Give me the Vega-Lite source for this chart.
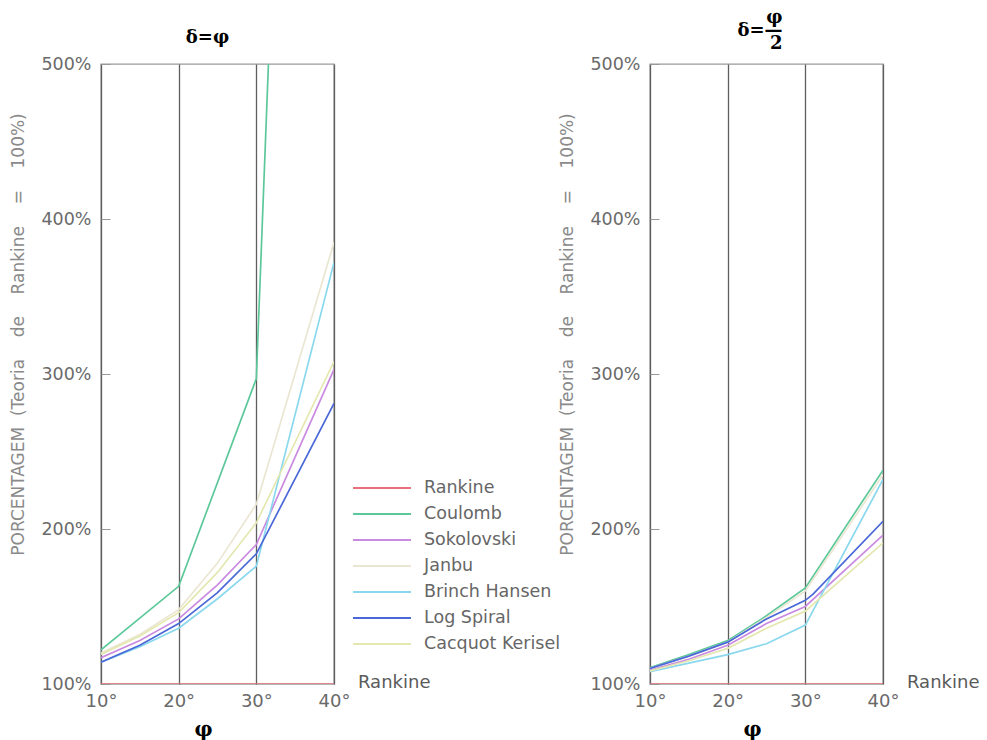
{
  "$schema": "https://vega.github.io/schema/vega-lite/v6.json",
  "padding": {"left": 9, "top": 8, "right": 5, "bottom": 5},
  "background": "white",
  "spacing": 316,
  "bounds": "flush",
  "config": {
    "font": "DejaVu Sans",
    "view": {"stroke": "#9a9a9a", "strokeWidth": 1.4},
    "axisX": {
      "labelExpr": "datum.value + '°'",
      "grid": true,
      "gridColor": "#5e5e5e",
      "gridWidth": 1.3,
      "domain": false,
      "ticks": false,
      "labelPadding": 8,
      "labelFontSize": 18,
      "labelColor": "#6a6a6a",
      "labelFlush": false,
      "titleFont": "DejaVu Serif",
      "titleFontWeight": "bold",
      "titleFontSize": 20,
      "titleColor": "black",
      "titlePadding": 9,
      "titleX": 102
    },
    "axisY": {
      "labelExpr": "datum.value + '%'",
      "grid": false,
      "domain": false,
      "ticks": true,
      "tickSize": -9,
      "tickColor": "#999999",
      "labelPadding": 19,
      "labelFontSize": 17.5,
      "labelColor": "#6a6a6a",
      "labelFlush": false,
      "titleFont": "DejaVu Sans",
      "titleFontWeight": "normal",
      "titleFontSize": 17,
      "titleColor": "#8a8a8a",
      "titlePadding": 13,
      "titleY": 270
    },
    "title": {"font": "DejaVu Serif", "fontWeight": "bold", "fontSize": 18, "color": "black"}
  },
  "resolve": {"scale": {"color": "independent"}, "legend": {"color": "independent"}},
  "datasets": {
    "d": [
      {"p": "A", "m": "Rankine", "x": 10, "y": 100},
      {"p": "A", "m": "Rankine", "x": 40, "y": 100},
      {"p": "A", "m": "Coulomb", "x": 10, "y": 122},
      {"p": "A", "m": "Coulomb", "x": 20, "y": 163},
      {"p": "A", "m": "Coulomb", "x": 30, "y": 297},
      {"p": "A", "m": "Coulomb", "x": 40, "y": 1600},
      {"p": "A", "m": "Sokolovski", "x": 10, "y": 117},
      {"p": "A", "m": "Sokolovski", "x": 15, "y": 128},
      {"p": "A", "m": "Sokolovski", "x": 20, "y": 142},
      {"p": "A", "m": "Sokolovski", "x": 25, "y": 164},
      {"p": "A", "m": "Sokolovski", "x": 30, "y": 190},
      {"p": "A", "m": "Sokolovski", "x": 40, "y": 303},
      {"p": "A", "m": "Janbu", "x": 10, "y": 120},
      {"p": "A", "m": "Janbu", "x": 15, "y": 132},
      {"p": "A", "m": "Janbu", "x": 20, "y": 148},
      {"p": "A", "m": "Janbu", "x": 25, "y": 178},
      {"p": "A", "m": "Janbu", "x": 30, "y": 216},
      {"p": "A", "m": "Janbu", "x": 40, "y": 385},
      {"p": "A", "m": "Brinch Hansen", "x": 10, "y": 114},
      {"p": "A", "m": "Brinch Hansen", "x": 15, "y": 124},
      {"p": "A", "m": "Brinch Hansen", "x": 20, "y": 136},
      {"p": "A", "m": "Brinch Hansen", "x": 25, "y": 155},
      {"p": "A", "m": "Brinch Hansen", "x": 30, "y": 176},
      {"p": "A", "m": "Brinch Hansen", "x": 40, "y": 372},
      {"p": "A", "m": "Log Spiral", "x": 10, "y": 114},
      {"p": "A", "m": "Log Spiral", "x": 15, "y": 125},
      {"p": "A", "m": "Log Spiral", "x": 20, "y": 139},
      {"p": "A", "m": "Log Spiral", "x": 25, "y": 159},
      {"p": "A", "m": "Log Spiral", "x": 30, "y": 184},
      {"p": "A", "m": "Log Spiral", "x": 40, "y": 281},
      {"p": "A", "m": "Cacquot Kerisel", "x": 10, "y": 119},
      {"p": "A", "m": "Cacquot Kerisel", "x": 15, "y": 131},
      {"p": "A", "m": "Cacquot Kerisel", "x": 20, "y": 146},
      {"p": "A", "m": "Cacquot Kerisel", "x": 25, "y": 172},
      {"p": "A", "m": "Cacquot Kerisel", "x": 30, "y": 204},
      {"p": "A", "m": "Cacquot Kerisel", "x": 40, "y": 308},
      {"p": "B", "m": "Rankine", "x": 10, "y": 100},
      {"p": "B", "m": "Rankine", "x": 40, "y": 100},
      {"p": "B", "m": "Coulomb", "x": 10, "y": 110.5},
      {"p": "B", "m": "Coulomb", "x": 15, "y": 119},
      {"p": "B", "m": "Coulomb", "x": 20, "y": 128},
      {"p": "B", "m": "Coulomb", "x": 25, "y": 144},
      {"p": "B", "m": "Coulomb", "x": 30, "y": 162},
      {"p": "B", "m": "Coulomb", "x": 40, "y": 238},
      {"p": "B", "m": "Sokolovski", "x": 10, "y": 109},
      {"p": "B", "m": "Sokolovski", "x": 15, "y": 116},
      {"p": "B", "m": "Sokolovski", "x": 20, "y": 125},
      {"p": "B", "m": "Sokolovski", "x": 25, "y": 139},
      {"p": "B", "m": "Sokolovski", "x": 30, "y": 150},
      {"p": "B", "m": "Sokolovski", "x": 40, "y": 196},
      {"p": "B", "m": "Janbu", "x": 10, "y": 110},
      {"p": "B", "m": "Janbu", "x": 15, "y": 118},
      {"p": "B", "m": "Janbu", "x": 20, "y": 127},
      {"p": "B", "m": "Janbu", "x": 25, "y": 143},
      {"p": "B", "m": "Janbu", "x": 30, "y": 160},
      {"p": "B", "m": "Janbu", "x": 40, "y": 235},
      {"p": "B", "m": "Brinch Hansen", "x": 10, "y": 108},
      {"p": "B", "m": "Brinch Hansen", "x": 15, "y": 113.5},
      {"p": "B", "m": "Brinch Hansen", "x": 20, "y": 119},
      {"p": "B", "m": "Brinch Hansen", "x": 25, "y": 126},
      {"p": "B", "m": "Brinch Hansen", "x": 30, "y": 138},
      {"p": "B", "m": "Brinch Hansen", "x": 40, "y": 232},
      {"p": "B", "m": "Log Spiral", "x": 10, "y": 110},
      {"p": "B", "m": "Log Spiral", "x": 15, "y": 118},
      {"p": "B", "m": "Log Spiral", "x": 20, "y": 127},
      {"p": "B", "m": "Log Spiral", "x": 25, "y": 142},
      {"p": "B", "m": "Log Spiral", "x": 30, "y": 154},
      {"p": "B", "m": "Log Spiral", "x": 31, "y": 158},
      {"p": "B", "m": "Log Spiral", "x": 40, "y": 205},
      {"p": "B", "m": "Cacquot Kerisel", "x": 10, "y": 108.5},
      {"p": "B", "m": "Cacquot Kerisel", "x": 15, "y": 115},
      {"p": "B", "m": "Cacquot Kerisel", "x": 20, "y": 123},
      {"p": "B", "m": "Cacquot Kerisel", "x": 25, "y": 136},
      {"p": "B", "m": "Cacquot Kerisel", "x": 30, "y": 147},
      {"p": "B", "m": "Cacquot Kerisel", "x": 40, "y": 191}
    ],
    "lab": [{"x": 40, "y": 100, "t": "Rankine"}]
  },
  "hconcat": [
    {
      "width": 233,
      "height": 620,
      "title": {"text": "δ=φ", "offset": 8, "dx": -10},
      "layer": [
        {
          "data": {"name": "d"},
          "transform": [{"filter": "datum.p === 'A'"}],
          "mark": {"type": "line", "clip": true, "strokeWidth": 1.7},
          "encoding": {
            "x": {"field": "x", "type": "quantitative", "scale": {"domain": [10, 40], "nice": false, "zero": false}, "title": "φ", "axis": {"values": [10, 20, 30, 40]}},
            "y": {"field": "y", "type": "quantitative", "scale": {"domain": [100, 500], "nice": false, "zero": false}, "title": "PORCENTAGEM\u00a0\u00a0(Teoria\u00a0\u00a0\u00a0\u00a0de\u00a0\u00a0\u00a0\u00a0Rankine\u00a0\u00a0\u00a0\u00a0=\u00a0\u00a0\u00a0\u00a0100%)", "axis": {"values": [100, 200, 300, 400, 500]}},
            "color": {
              "field": "m", "type": "nominal",
              "scale": {
                "domain": ["Rankine", "Coulomb", "Sokolovski", "Janbu", "Brinch Hansen", "Log Spiral", "Cacquot Kerisel"],
                "range": ["#e8707c", "#5cc89a", "#c98ae0", "#ebe6d2", "#8ad8ee", "#4a68d8", "#e4e8b0"]
              },
              "legend": {
                "orient": "none", "legendX": 270, "legendY": 413, "title": null,
                "symbolType": "M-3,0H3", "symbolSize": 373, "symbolStrokeWidth": 2,
                "labelFontSize": 17.5, "labelColor": "#666666", "labelOffset": 31, "rowPadding": 6
              }
            },
            "detail": {"field": "m"}
          }
        },
        {
          "data": {"name": "lab"},
          "mark": {"type": "text", "align": "left", "baseline": "middle", "dx": 24, "dy": -1, "fontSize": 18, "color": "#5a5a5a"},
          "encoding": {
            "x": {"field": "x", "type": "quantitative"},
            "y": {"field": "y", "type": "quantitative"},
            "text": {"field": "t"}
          }
        }
      ]
    },
    {
      "width": 233,
      "height": 620,
      "title": {"text": ["φ", "δ=—", "2"], "offset": 2, "dx": 16, "align": "right", "lineHeight": 13},
      "layer": [
        {
          "data": {"name": "d"},
          "transform": [{"filter": "datum.p === 'B'"}],
          "mark": {"type": "line", "clip": true, "strokeWidth": 1.7},
          "encoding": {
            "x": {"field": "x", "type": "quantitative", "scale": {"domain": [10, 40], "nice": false, "zero": false}, "title": "φ", "axis": {"values": [10, 20, 30, 40]}},
            "y": {"field": "y", "type": "quantitative", "scale": {"domain": [100, 500], "nice": false, "zero": false}, "title": "PORCENTAGEM\u00a0\u00a0(Teoria\u00a0\u00a0\u00a0\u00a0de\u00a0\u00a0\u00a0\u00a0Rankine\u00a0\u00a0\u00a0\u00a0=\u00a0\u00a0\u00a0\u00a0100%)", "axis": {"values": [100, 200, 300, 400, 500]}},
            "color": {
              "field": "m", "type": "nominal",
              "scale": {
                "domain": ["Rankine", "Coulomb", "Sokolovski", "Janbu", "Brinch Hansen", "Log Spiral", "Cacquot Kerisel"],
                "range": ["#e8707c", "#5cc89a", "#c98ae0", "#ebe6d2", "#8ad8ee", "#4a68d8", "#e4e8b0"]
              },
              "legend": null
            },
            "detail": {"field": "m"}
          }
        },
        {
          "data": {"name": "lab"},
          "mark": {"type": "text", "align": "left", "baseline": "middle", "dx": 24, "dy": -1, "fontSize": 18, "color": "#5a5a5a"},
          "encoding": {
            "x": {"field": "x", "type": "quantitative"},
            "y": {"field": "y", "type": "quantitative"},
            "text": {"field": "t"}
          }
        }
      ]
    }
  ]
}
